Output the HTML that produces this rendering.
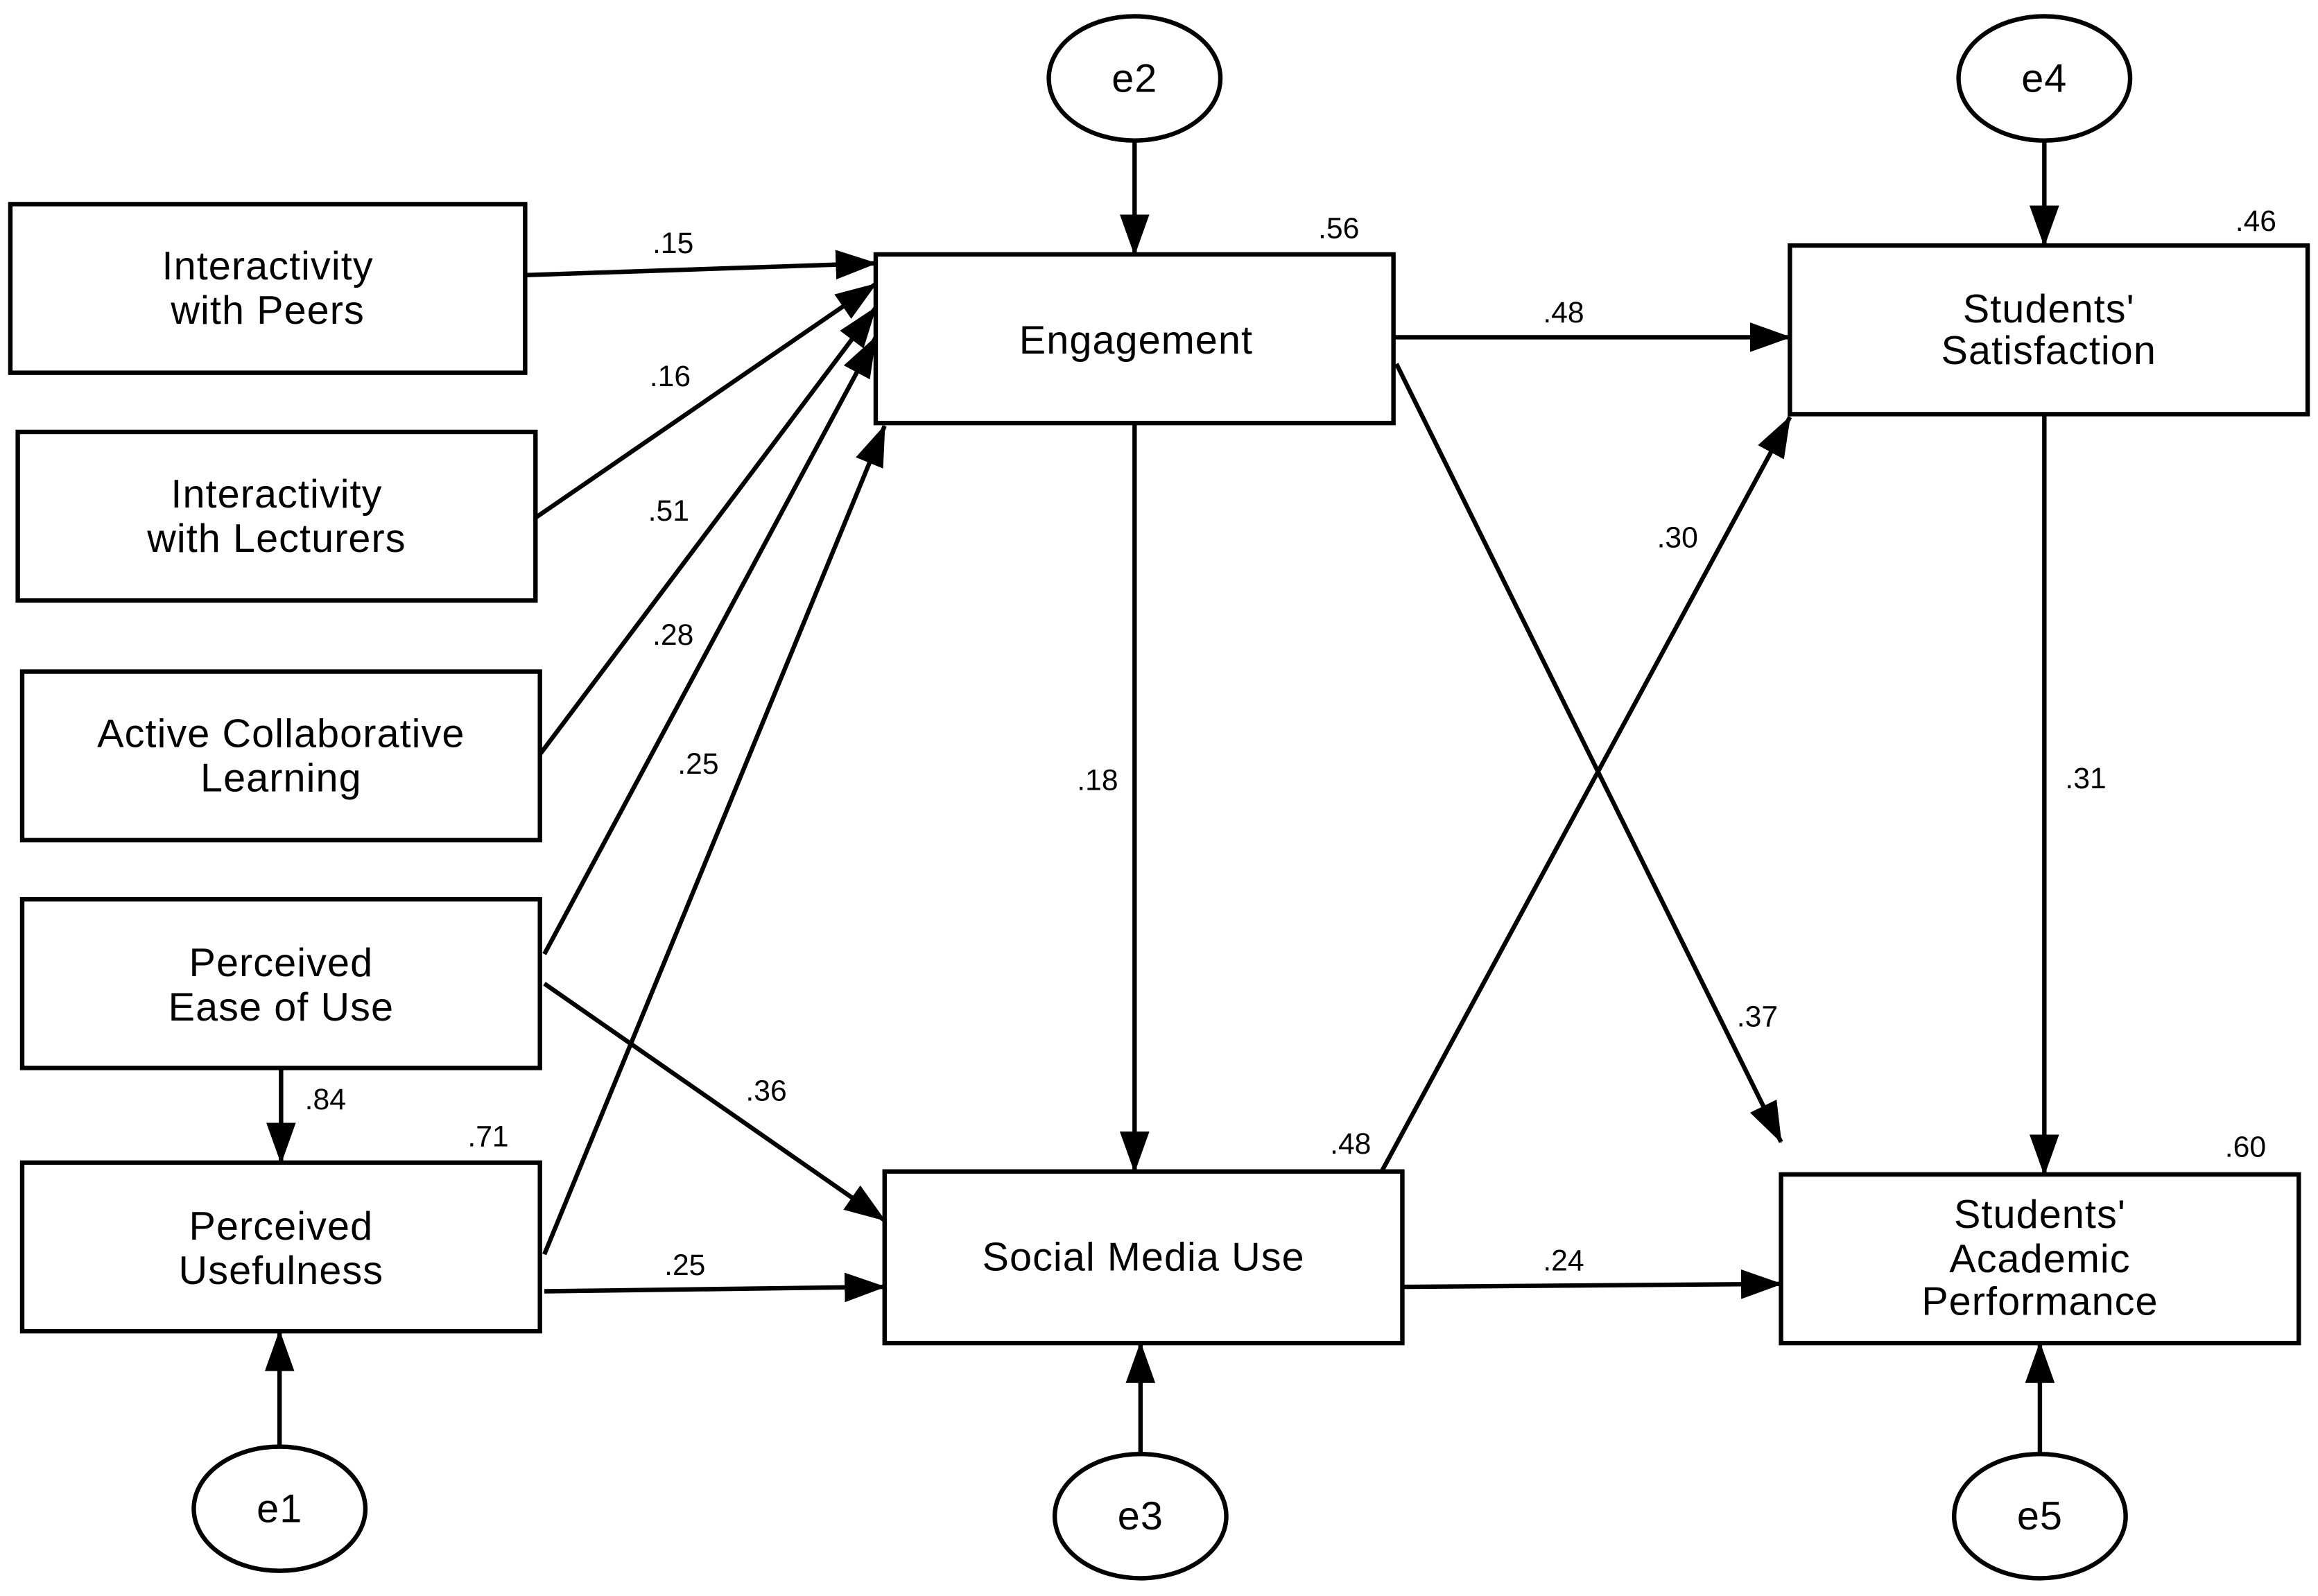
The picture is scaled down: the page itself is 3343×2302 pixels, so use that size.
<!DOCTYPE html>
<html><head><style>html,body{margin:0;padding:0;background:#fff}svg{display:block}</style></head><body>
<svg width="3343" height="2302" viewBox="0 0 1567 1079" preserveAspectRatio="none" xmlns="http://www.w3.org/2000/svg">
<defs><marker id="a" markerUnits="userSpaceOnUse" markerWidth="30" markerHeight="22" refX="27" refY="10" orient="auto"><path d="M0,0 L28,10 L0,20 Z" fill="#000"/></marker></defs>
<rect width="1567" height="1079" fill="#fff"/>
<g fill="#fff" stroke="#000" stroke-width="3">
<rect x="7" y="138" width="348" height="114"/>
<rect x="12" y="292" width="350" height="114"/>
<rect x="15" y="454" width="350" height="114"/>
<rect x="15" y="608" width="350" height="114"/>
<rect x="15" y="786" width="350" height="114"/>
<rect x="592" y="172" width="350" height="114"/>
<rect x="598" y="792" width="350" height="116"/>
<rect x="1210" y="166" width="350" height="114"/>
<rect x="1204" y="794" width="350" height="114"/>
<ellipse cx="767" cy="53" rx="58" ry="42"/>
<ellipse cx="1382" cy="53" rx="58" ry="42"/>
<ellipse cx="189" cy="1020" rx="58" ry="42"/>
<ellipse cx="771" cy="1025" rx="58" ry="42"/>
<ellipse cx="1379" cy="1025" rx="58" ry="42"/>
</g>
<g stroke="#000" stroke-width="3" marker-end="url(#a)" fill="none">
<line x1="355" y1="186" x2="592" y2="178"/>
<line x1="362" y1="350" x2="592" y2="192"/>
<line x1="365" y1="510" x2="592" y2="208"/>
<line x1="368" y1="645" x2="592" y2="228"/>
<line x1="368" y1="848" x2="598" y2="288"/>
<line x1="368" y1="665" x2="598" y2="825"/>
<line x1="368" y1="873" x2="598" y2="870"/>
<line x1="190" y1="722" x2="190" y2="786"/>
<line x1="189" y1="978" x2="189" y2="900"/>
<line x1="767" y1="95" x2="767" y2="172"/>
<line x1="771" y1="983" x2="771" y2="908"/>
<line x1="1382" y1="95" x2="1382" y2="166"/>
<line x1="1379" y1="983" x2="1379" y2="908"/>
<line x1="767" y1="286" x2="767" y2="792"/>
<line x1="942" y1="228" x2="1210" y2="228"/>
<line x1="944" y1="246" x2="1204" y2="772"/>
<line x1="934" y1="792" x2="1210" y2="282"/>
<line x1="948" y1="870" x2="1204" y2="868"/>
<line x1="1382" y1="280" x2="1382" y2="794"/>
</g>
<g font-family="Liberation Sans, sans-serif" font-size="27" text-anchor="middle" fill="#000" letter-spacing="0.5">
<text x="181" y="189">Interactivity</text><text x="181" y="219">with Peers</text>
<text x="187" y="343">Interactivity</text><text x="187" y="373">with Lecturers</text>
<text x="190" y="505">Active Collaborative</text><text x="190" y="535">Learning</text>
<text x="190" y="660">Perceived</text><text x="190" y="690">Ease of Use</text>
<text x="190" y="838">Perceived</text><text x="190" y="868">Usefulness</text>
<text x="768" y="239">Engagement</text>
<text x="773" y="859">Social Media Use</text>
<text x="1385" y="218">Students'</text><text x="1385" y="246">Satisfaction</text>
<text x="1379" y="830">Students'</text><text x="1379" y="860">Academic</text><text x="1379" y="889">Performance</text>
<text x="767" y="62">e2</text><text x="1382" y="62">e4</text><text x="189" y="1029">e1</text><text x="771" y="1034">e3</text><text x="1379" y="1034">e5</text>
</g>
<g font-family="Liberation Sans, sans-serif" font-size="20" text-anchor="middle" fill="#000">
<text x="455" y="171">.15</text><text x="453" y="261">.16</text><text x="452" y="352">.51</text><text x="455" y="436">.28</text><text x="472" y="523">.25</text>
<text x="518" y="744">.36</text><text x="463" y="862">.25</text><text x="220" y="750">.84</text>
<text x="742" y="534">.18</text><text x="1057" y="218">.48</text><text x="1188" y="694">.37</text><text x="1134" y="370">.30</text>
<text x="1057" y="859">.24</text><text x="1410" y="533">.31</text>
<text x="905" y="161">.56</text><text x="1525" y="156">.46</text><text x="330" y="775">.71</text><text x="913" y="780">.48</text><text x="1518" y="782">.60</text>
</g>
</svg>
</body></html>
